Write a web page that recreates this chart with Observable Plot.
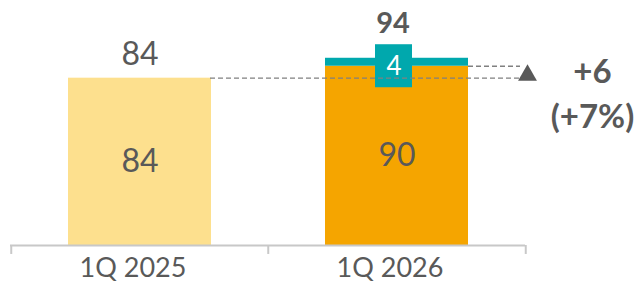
<!DOCTYPE html>
<html><head><meta charset="utf-8">
<script src="https://cdn.jsdelivr.net/npm/d3@7"></script>
<script src="https://cdn.jsdelivr.net/npm/@observablehq/plot@0.6"></script>
<style>html,body{margin:0;padding:0;background:#fff} svg{display:block}</style>
</head><body><div id="chart"></div>
<script>
const categories = ["1Q 2025", "1Q 2026"];
const baseValues = [84, 90];
const increments = [0, 4];
const totals = [84, 94];
const deltaLabel = "+6";
const pctLabel = "(+7%)";

const rows = categories.map((c, i) => ({cat: c, base: baseValues[i], inc: increments[i], total: totals[i]}));
const grey = "#595959";
const teal = "#00A8AD";
const font = "Lato, 'Open Sans', sans-serif";
const barInset = 57;
const halfBand = 128.75;

const chart = Plot.plot({
  width: 643, height: 282,
  marginLeft: 10, marginRight: 118, marginTop: 0, marginBottom: 37,
  style: {fontFamily: font, color: grey, background: "#fff"},
  x: {type: "band", domain: categories, padding: 0, label: null},
  y: {domain: [0, 123], axis: null},
  color: {domain: categories, range: ["#FDE08E", "#F5A500"]},
  marks: [
    Plot.barY(rows, {x: "cat", y: "base", fill: "cat", insetLeft: barInset, insetRight: barInset}),
    Plot.barY(rows.filter(d => d.inc > 0), {x: "cat", y1: "base", y2: d => d.base + d.inc, fill: teal, insetLeft: barInset, insetRight: barInset}),
    Plot.ruleY([0], {stroke: "#c8c8c8", strokeWidth: 2}),
    Plot.ruleX(categories, {x: d => d, y1: 0, y2: -4.5, dx: -halfBand, stroke: "#c8c8c8", strokeWidth: 2}),
    Plot.ruleX([categories[categories.length - 1]], {x: d => d, y1: 0, y2: -4.5, dx: halfBand, stroke: "#c8c8c8", strokeWidth: 2}),
    Plot.axisX({tickSize: 0, tickPadding: 12, fontSize: 27, dx: -7}),
    // increment label box
    Plot.barY(rows.filter(d => d.inc > 0), {x: "cat", y1: "base", y2: "base", fill: teal, insetTop: -21.5, insetBottom: -21.5, insetLeft: 107, insetRight: 113}),
    // dashed reference lines
    Plot.ruleY([totals[0]], {insetLeft: 200, insetRight: 5, stroke: "#808080", strokeWidth: 1.3, strokeDasharray: "5,3"}),
    Plot.ruleY([baseValues[1]], {insetLeft: 458, insetRight: 5, stroke: "#808080", strokeWidth: 1.3, strokeDasharray: "5,3"}),
    Plot.text(rows.filter(d => d.inc > 0), {x: "cat", y: "base", text: d => String(d.inc), fill: "#fff", fontSize: 26, dx: -3}),
    Plot.text(rows, {x: "cat", y: d => d.base / 2, text: d => String(d.base), fill: grey, fontSize: 32}),
    Plot.text([rows[0]], {x: "cat", y: "total", text: d => String(d.total), fill: grey, fontSize: 32, dy: -23}),
    Plot.text([rows[1]], {x: "cat", y: "total", text: d => String(d.total), fill: grey, fontSize: 29, fontWeight: "bold", dy: -35, dx: -4}),
    Plot.dot([totals[0]], {y: d => d, frameAnchor: "right", dx: 2, dy: -3, symbol: "triangle", r: 7, fill: grey}),
    Plot.text([deltaLabel + "\n" + pctLabel], {y: (totals[0] + baseValues[1]) / 2, frameAnchor: "right", textAnchor: "middle", dx: 67, dy: 19, lineHeight: 1.35, fontSize: 33, fontWeight: "bold", fill: grey, text: d => d})
  ]
});
document.getElementById("chart").appendChild(chart);
</script>
</body></html>
